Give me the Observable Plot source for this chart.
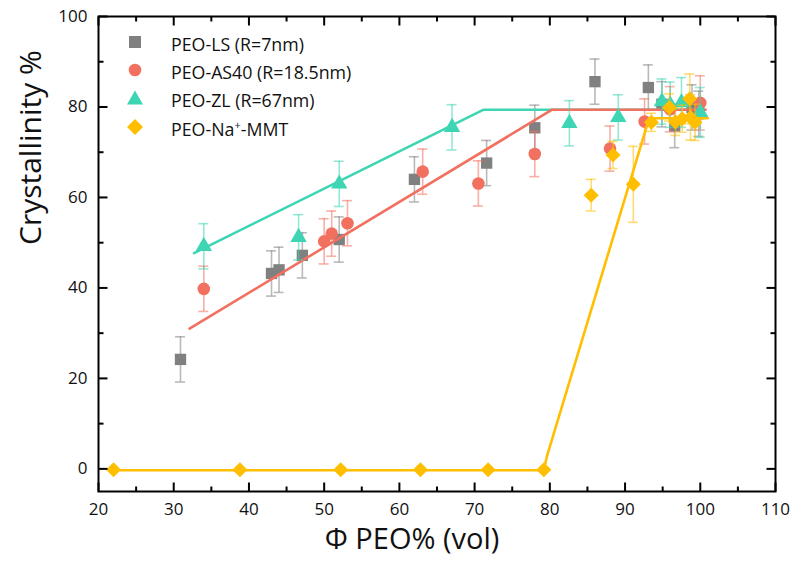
<!DOCTYPE html>
<html>
<head>
<meta charset="utf-8">
<script src="https://cdn.jsdelivr.net/npm/d3@7"></script>
<script src="https://cdn.jsdelivr.net/npm/@observablehq/plot@0.6"></script>
<style>
  html, body { margin: 0; padding: 0; background: #fff; }
  #wrap { position: relative; width: 791px; height: 565px; font-family: "Open Sans", sans-serif; }
  #legend { position: absolute; left: 127px; top: 31px; font-size: 17.8px; color: #111; }
  .row { position: absolute; left: 0; white-space: nowrap; height: 26px; line-height: 26px; }
  .row svg { position: absolute; left: 0; top: 3px; }
  .row span { position: absolute; left: 44px; top: 0; }
  sup { font-size: 11px; vertical-align: 7px; line-height: 0; }
</style>
</head>
<body>
<div id="wrap"></div>
<script>
// ---- data ----
const seriesNames = ["PEO-LS (R=7nm)", "PEO-AS40 (R=18.5nm)", "PEO-ZL (R=67nm)", "PEO-Na+-MMT"];
const seriesColors = ["#808080", "#F2705F", "#3DD5B3", "#FFBF00"];

const lsX   = [30.9, 43.0, 44.0, 47.1, 52.0, 62.0, 71.6, 78.0, 86.0, 93.1, 94.9, 96.6, 98.9, 99.8];
const lsY   = [24.2, 43.2, 44.0, 47.2, 50.7, 64.0, 67.6, 75.4, 85.6, 84.3, 80.6, 75.8, 79.9, 78.5];
const lsErr = [5, 5, 5, 5, 5, 5, 5, 5, 5, 5, 5, 4.8, 5, 5];

const asX   = [34.0, 50.0, 51.0, 53.1, 63.1, 70.5, 78.0, 88.0, 92.6, 96.0, 100.0];
const asY   = [39.8, 50.3, 52.0, 54.3, 65.7, 63.1, 69.6, 70.8, 76.8, 79.5, 80.9];
const asErr = [5, 5, 5, 5, 5, 5, 5, 5, 5, 5, 6];

const zlX   = [34.0, 46.6, 52.0, 67.0, 82.6, 89.1, 94.9, 96.0, 97.5, 100.0];
const zlY   = [49.2, 51.2, 63.0, 75.5, 76.4, 77.7, 81.2, 80.5, 81.0, 78.8];
const zlErr = [5, 5, 5, 5, 5, 5, 5, 5, 5.5, 5.5];

const mmtX   = [22.0, 38.8, 52.2, 62.8, 71.8, 79.2, 85.5, 88.4, 91.1, 93.5, 95.9, 96.7, 97.6, 98.6, 98.7, 99.3];
const mmtY   = [-0.2, -0.2, -0.2, -0.2, -0.2, -0.2, 60.5, 69.4, 62.9, 76.6, 79.9, 76.7, 77.4, 81.8, 77.7, 76.6];
const mmtErr = [0, 0, 0, 0, 0, 0, 3.5, 3, 8.4, 2, 3, 3, 3, 5.5, 5, 4];

// fitted guide lines
const asFitX  = [32.1, 80.3, 100.7];
const asFitY  = [31.0, 79.4, 79.4];
const zlFitX  = [32.7, 71.2, 100.5];
const zlFitY  = [47.7, 79.4, 79.4];
const mmtFitX = [22.0, 79.2, 79.6, 93.2, 101.0];
const mmtFitY = [-0.3, -0.3, 2.7, 77.5, 77.5];

// axes
const xDomain = [20, 110];
const yDomain = [-5, 100];
const xMajor = [20, 30, 40, 50, 60, 70, 80, 90, 100, 110];
const xMinor = [25, 35, 45, 55, 65, 75, 85, 95, 105];
const yMajor = [0, 20, 40, 60, 80, 100];
const yMinor = [10, 30, 50, 70, 90];
const xTitle = "Φ PEO% (vol)";
const yTitle = "Crystallinity %";

// ---- layout ----
const W = 791, H = 565, ML = 98, MR = 16, MT = 16, MB = 74;
const plotW = W - ML - MR, plotH = H - MT - MB;
// pixel length -> data-unit length, for inward tick marks
const pxX = (xDomain[1] - xDomain[0]) / plotW;
const pxY = (yDomain[1] - yDomain[0]) / plotH;

const pts = (xs, ys, es) => xs.map((x, i) => ({x, y: ys[i], e: es ? es[i] : 0}));
const line = (xs, ys) => xs.map((x, i) => ({x, y: ys[i]}));

const ls = pts(lsX, lsY, lsErr);
const as = pts(asX, asY, asErr);
const zl = pts(zlX, zlY, zlErr);
const mmt = pts(mmtX, mmtY, mmtErr);

function errBars(data, color) {
  const d = data.filter(p => p.e > 0);
  const o = {stroke: color, strokeOpacity: 0.55, strokeWidth: 1.6};
  return [
    Plot.ruleX(d, {x: "x", y1: p => p.y - p.e, y2: p => p.y + p.e, ...o}),
    Plot.ruleY(d, {y: p => p.y + p.e, x1: "x", x2: "x", insetLeft: -5, insetRight: -5, ...o}),
    Plot.ruleY(d, {y: p => p.y - p.e, x1: "x", x2: "x", insetLeft: -5, insetRight: -5, ...o})
  ];
}

const tk = {stroke: "#000", strokeWidth: 2};
function xTicks(values, len) {
  return [
    Plot.link(values, {x1: d => d, x2: d => d, y1: () => yDomain[0], y2: () => yDomain[0] + len * pxY, ...tk}),
    Plot.link(values, {x1: d => d, x2: d => d, y1: () => yDomain[1], y2: () => yDomain[1] - len * pxY, ...tk})
  ];
}
function yTicks(values, len) {
  return [
    Plot.link(values, {y1: d => d, y2: d => d, x1: () => xDomain[0], x2: () => xDomain[0] + len * pxX, ...tk}),
    Plot.link(values, {y1: d => d, y2: d => d, x1: () => xDomain[1], x2: () => xDomain[1] - len * pxX, ...tk})
  ];
}

const chart = Plot.plot({
  width: W, height: H,
  marginLeft: ML, marginRight: MR, marginTop: MT, marginBottom: MB,
  x: {domain: xDomain},
  y: {domain: yDomain},
  style: {fontFamily: "Open Sans, sans-serif", fontSize: "17px", color: "#111", background: "white", overflow: "visible"},
  marks: [
    // gray series
    ...errBars(ls, seriesColors[0]),
    Plot.dot(ls, {x: "x", y: "y", symbol: "square", r: 6.4, fill: seriesColors[0]}),
    // guide lines
    Plot.line(line(zlFitX, zlFitY), {x: "x", y: "y", stroke: seriesColors[2], strokeWidth: 2.6}),
    Plot.line(line(asFitX, asFitY), {x: "x", y: "y", stroke: seriesColors[1], strokeWidth: 2.6}),
    // red series
    ...errBars(as, seriesColors[1]),
    Plot.dot(as, {x: "x", y: "y", symbol: "circle", r: 6.3, fill: seriesColors[1]}),
    // teal series
    ...errBars(zl, seriesColors[2]),
    Plot.dot(zl, {x: "x", y: "y", symbol: "triangle", r: 6.1, fill: seriesColors[2]}),
    // yellow series
    Plot.line(line(mmtFitX, mmtFitY), {x: "x", y: "y", stroke: seriesColors[3], strokeWidth: 2.6}),
    ...errBars(mmt, seriesColors[3]),
    Plot.dot(mmt, {x: "x", y: "y", symbol: "square", rotate: 45, r: 6.0, fill: seriesColors[3]}),
    // frame & inward ticks
    Plot.frame({stroke: "#000", strokeWidth: 2}),
    ...xTicks(xMajor, 9), ...xTicks(xMinor, 5),
    ...yTicks(yMajor, 9), ...yTicks(yMinor, 5),
    // tick labels
    Plot.axisX(xMajor, {anchor: "bottom", tickSize: 0, tickPadding: 11, label: null, fontSize: 17}),
    Plot.axisY(yMajor, {anchor: "left", tickSize: 0, tickPadding: 11, label: null, fontSize: 17}),
    // titles
    Plot.text([xTitle], {frameAnchor: "bottom", dx: -25, dy: 57, fontSize: 29, fill: "#111"}),
    Plot.text([yTitle], {frameAnchor: "left", dx: -67, dy: -9, rotate: -90, fontSize: 30, fill: "#111"})
  ]
});

const wrap = document.getElementById("wrap");
wrap.appendChild(chart);

// legend (HTML overlay)
const legend = document.createElement("div");
legend.id = "legend";
const markers = [
  c => `<rect x="2" y="2" width="12" height="12" fill="${c}"/>`,
  c => `<circle cx="8" cy="8" r="6.3" fill="${c}"/>`,
  c => `<path d="M8 0.5 L16 14.5 L0 14.5 Z" fill="${c}"/>`,
  c => `<path d="M8 0 L16 8 L8 16 L0 8 Z" fill="${c}"/>`
];
const rowTops = [0, 28, 56, 85];
seriesNames.forEach((name, i) => {
  const row = document.createElement("div");
  row.className = "row";
  row.style.top = rowTops[i] + "px";
  const label = name === "PEO-Na+-MMT" ? "PEO-Na<sup>+</sup>-MMT" : name;
  row.innerHTML = `<svg width="16" height="16" viewBox="0 0 16 16">${markers[i](seriesColors[i])}</svg><span>${label}</span>`;
  legend.appendChild(row);
});
wrap.appendChild(legend);
</script>
</body>
</html>
